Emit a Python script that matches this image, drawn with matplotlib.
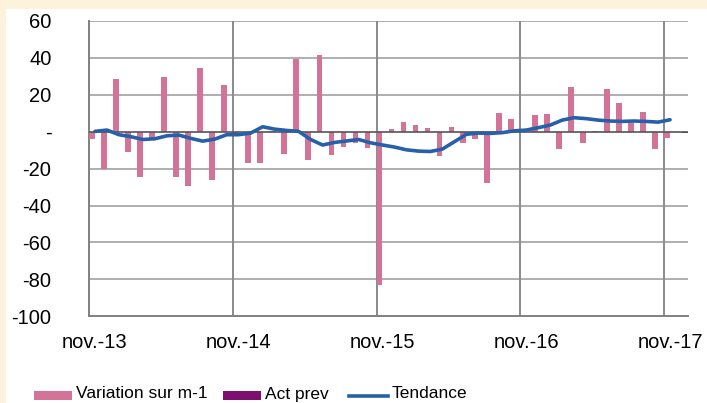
import numpy as np
import matplotlib
matplotlib.use("Agg")
import matplotlib.pyplot as plt
from matplotlib.patches import Rectangle
from matplotlib.lines import Line2D

# ---- data ----
variation = [-4, -20, 28.5, -10.8, -24.7, -3.5, 29.5, -24.7, -29.2, 34.6,
             -26.3, 25.4, -1, -16.9, -17.1, 0.5, -12.1, 39.6, -15.5, 41.4,
             -12.8, -8.5, -5.9, -8.8, -83.3, 1.4, 5.2, 3.6, 2.2, -13.3,
             2.5, -6.3, -3.8, -27.8, 10.4, 7.0, 1.0, 9.2, 9.5, -9.2,
             24.5, -6.3, 0.5, 23.0, 15.3, 5.0, 10.8, -9.5, -3.2, np.nan]
act_prev = [np.nan] * 49 + [-0.5]
tendance = [0.2, 0.9, -1.6, -2.7, -4.2, -3.8, -2.2, -1.8, -3.6, -5.1,
            -4.0, -1.6, -1.6, -0.7, 2.7, 1.4, 0.7, 0.2, -4.2, -7.2,
            -5.8, -5.0, -4.2, -6.0, -7.2, -8.3, -9.8, -10.5, -10.7, -9.4,
            -5.4, -1.4, -0.7, -0.9, -0.5, 0.5, 0.9, 2.2, 3.6, 6.3,
            7.6, 7.1, 6.3, 5.8, 5.6, 5.8, 5.6, 5.2, 6.5]
xtick_labels = ["nov.-13", "nov.-14", "nov.-15", "nov.-16", "nov.-17"]
ytick_values = [-100, -80, -60, -40, -20, 0, 20, 40, 60]
ytick_labels = ["-100", "-80", "-60", "-40", "-20", "-", "20", "40", "60"]
legend_labels = ["Variation sur m-1", "Act prev", "Tendance"]

PINK = "#D47398"
PURPLE = "#7D106E"
BLUE = "#2760AA"
CREAM = "#FDF3DD"

W, H = 707, 403
fig = plt.figure(figsize=(W / 100, H / 100), dpi=100, facecolor=CREAM)
fig.patches.append(Rectangle((6 / W, 0), 1 - 6 / W, (H - 9) / H,
                             transform=fig.transFigure, facecolor="white",
                             edgecolor="none", zorder=-10))

left, right, top, bottom = 89, 688, 21, 316.3
ax = fig.add_axes([left / W, (H - bottom) / H, (right - left) / W, (bottom - top) / H])
ax.set_facecolor("white")
ax.set_zorder(1)

n = len(variation)
idx = np.arange(n)
ax.bar(idx + 0.25, variation, width=0.48, color=PINK, zorder=3)
ax.bar(idx + 0.75, act_prev, width=0.48, color=PURPLE, zorder=3)
ti = np.arange(len(tendance))
ax.plot(ti + 0.5, tendance, color=BLUE, lw=2.6, solid_capstyle="round",
        solid_joinstyle="round", zorder=4)

ax.set_xlim(0, n)
ax.set_ylim(-100, 60)

# horizontal grid
for v in ytick_values:
    if v == -100:
        continue
    if v == 0:
        ax.axhline(0, color="#555555", lw=1.2, zorder=3.5)
    else:
        ax.axhline(v, color="#A8A8A8", lw=1.3, zorder=1)
# vertical grid at year boundaries
for k in range(1, len(xtick_labels)):
    ax.axvline(12 * k, color="#8A8A8A", lw=1.4, zorder=1)

ax.set_yticks(ytick_values)
ax.set_yticklabels(ytick_labels)
ax.set_xticks([12 * k + 0.5 for k in range(len(xtick_labels))])
ax.set_xticklabels(xtick_labels)
ax.tick_params(axis="both", length=0, labelsize=14.5)
ax.tick_params(axis="y", pad=27)
ax.tick_params(axis="x", pad=12)
for lab in ax.get_xticklabels() + ax.get_yticklabels():
    lab.set_family(["Liberation Sans", "DejaVu Sans"])
    lab.set_color("black")

for s in ["top", "right"]:
    ax.spines[s].set_visible(False)
ax.spines["left"].set_color("#808080")
ax.spines["bottom"].set_color("#808080")
ax.spines["left"].set_linewidth(1.4)
ax.spines["bottom"].set_linewidth(1.4)

# legend (manual layout)
lfont = dict(family=["Liberation Sans", "DejaVu Sans"],
             fontsize=12.5, color="black", va="baseline", ha="left")
ybase = (H - 398.5) / H
fig.patches.append(Rectangle((34 / W, (H - 400) / H), 38 / W, 9 / H,
                             transform=fig.transFigure, facecolor=PINK, edgecolor="none"))
fig.text(76 / W, ybase, legend_labels[0], **lfont)
fig.patches.append(Rectangle((223 / W, (H - 400) / H), 38 / W, 9 / H,
                             transform=fig.transFigure, facecolor=PURPLE, edgecolor="none"))
fig.text(265 / W, ybase, legend_labels[1], **lfont)
fig.lines.append(Line2D([349 / W, 388 / W], [(H - 395.5) / H] * 2,
                        transform=fig.transFigure, color=BLUE, lw=2.6))
fig.text(392 / W, ybase, legend_labels[2], **lfont)

fig.savefig("out.png", dpi=100, facecolor=CREAM)
